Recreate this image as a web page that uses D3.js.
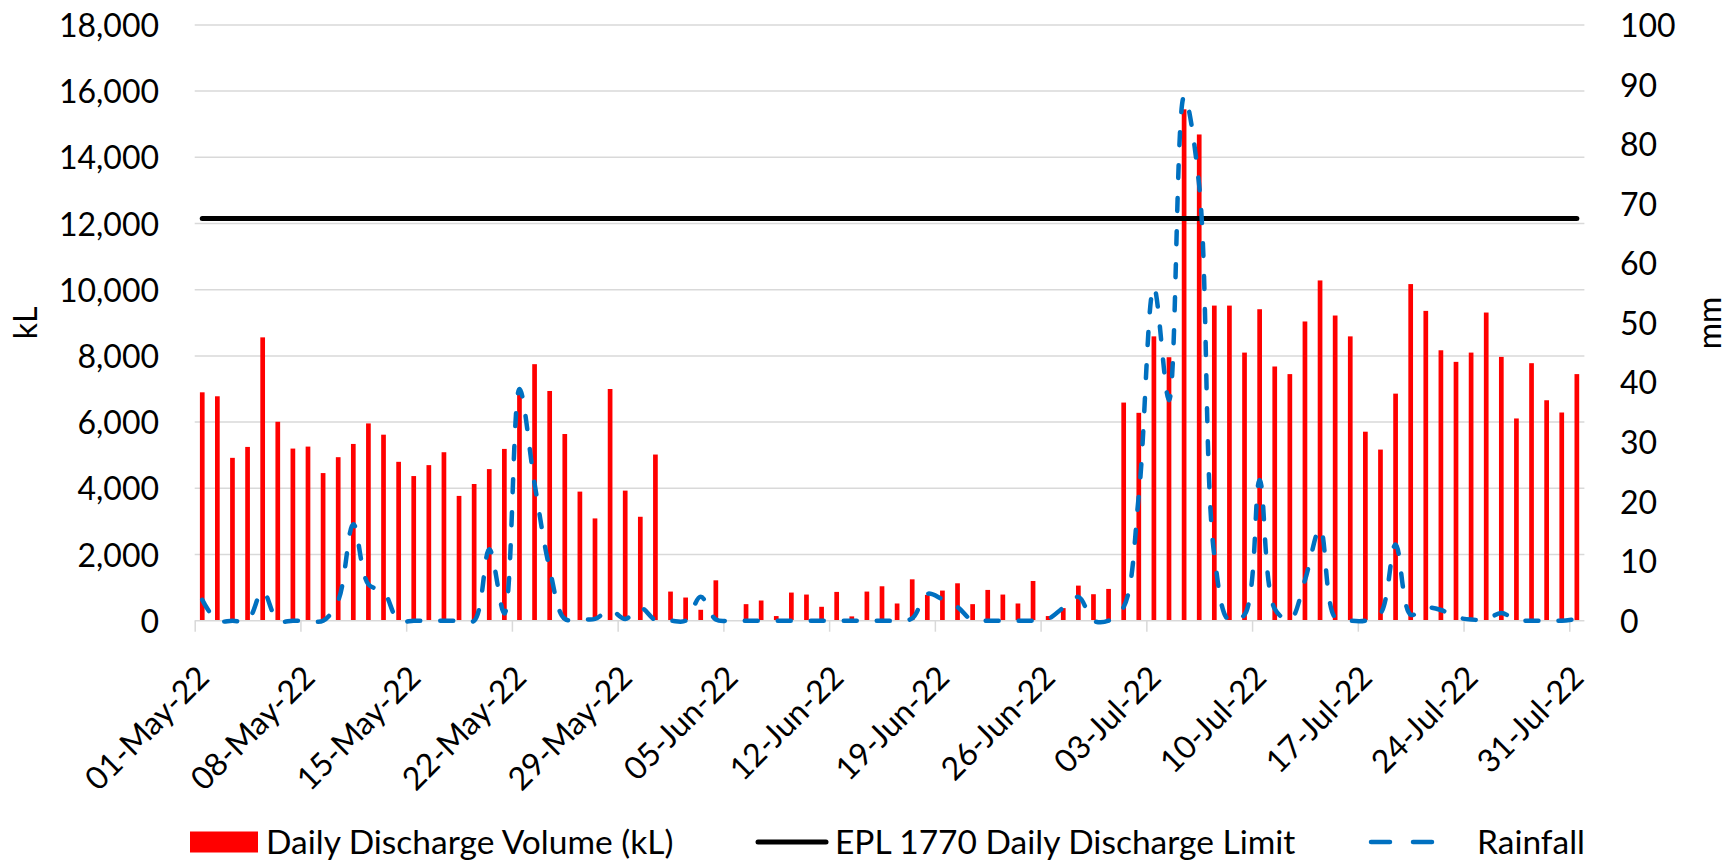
<!DOCTYPE html>
<html>
<head>
<meta charset="utf-8">
<script src="https://cdn.jsdelivr.net/npm/d3@7"></script>
<style>
  body { margin: 0; background: #fff; }
  svg text { font-family: "Lato", "Open Sans", sans-serif; fill: #000; }
</style>
</head>
<body>
<div id="chart"></div>
<script>
// daily discharge volume (kL), 01-May-22 .. 31-Jul-22
var discharge = [
  6900, 6780, 4920, 5250, 8560, 6010, 5200, 5260, 4460, 4940, 5340, 5960, 5620, 4800, 4370, 4700,
  5090, 3770, 4130, 4580, 5190, 6900, 7750, 6940, 5640, 3900, 3090, 7000, 3930, 3140, 5020,
  // June
  880, 700, 330, 1220, 0, 500, 610, 140, 850, 790, 420, 870, 130, 880, 1040,
  520, 1250, 780, 910, 1130, 500, 930, 790, 520, 1200, 140, 380, 1060, 800, 960,
  // July
  6590, 6280, 8590, 7960, 15450, 14690, 9520, 9520, 8100, 9410, 7680, 7450, 9040, 10280, 9220, 8590,
  5710, 5170, 6860, 10170, 9360, 8170, 7820, 8100, 9310, 7970, 6110, 7780, 6660, 6290, 7450
];

// rainfall (mm)
var rainfall = [
  3.5, 0, 0, 0, 5.0, 0, 0, 0, 0, 3.4, 16.2, 6.1, 4.9, 0, 0, 0,
  0, 0, 0, 12.0, 1.2, 38.9, 23.0, 8.7, 0.3, 0.3, 0.3, 1.8, 0.3, 2.2, 0.1,
  // June
  0, 0, 4.0, 0.2, 0, 0, 0, 0, 0, 0, 0, 0, 0, 0, 0,
  0, 0.4, 4.5, 3.6, 2.3, 0, 0, 0, 0, 0, 0.3, 2.2, 4.0, 0, 0,
  // July
  2.3, 21.0, 56.0, 37.0, 88.0, 73.0, 11.0, 0, 1.0, 23.6, 2.0, 0.1, 6.8, 15.5, 0.5, 0,
  0, 1.2, 12.8, 1.0, 2.2, 1.8, 0.6, 0.2, 0.2, 1.3, 0.1, 0, 0, 0, 0.3
];

var dischargeLimit = 12150;

var leftTicks = [0, 2000, 4000, 6000, 8000, 10000, 12000, 14000, 16000, 18000];
var rightTicks = [0, 10, 20, 30, 40, 50, 60, 70, 80, 90, 100];

var legendLabels = ["Daily Discharge Volume (kL)", "EPL 1770 Daily Discharge Limit", "Rainfall"];

// days of the period (categories)
var days = d3.utcDay.range(Date.UTC(2022, 4, 1), Date.UTC(2022, 7, 1));
var tickDays = days.filter(function(d, i) { return i % 7 === 0; });

// dimensions
var W = 1735, H = 860;
var plot = { left: 194.7, right: 1584.4, top: 24.9, bottom: 620.7 };

var svg = d3.select("#chart")
  .append("svg")
  .attr("width", W)
  .attr("height", H);

var x = d3.scaleUtc()
  .domain([days[0], d3.utcDay.offset(days[days.length - 1], 1)])
  .range([plot.left, plot.right]);

function xMid(d) {
  return x(d3.utcHour.offset(d, 12));
}

var yL = d3.scaleLinear().domain([0, 18000]).range([plot.bottom, plot.top]);
var yR = d3.scaleLinear().domain([0, 100]).range([plot.bottom, plot.top]);

// gridlines
svg.append("g")
  .selectAll("line")
  .data(leftTicks.slice(1))
  .enter()
  .append("line")
  .attr("x1", plot.left)
  .attr("x2", plot.right)
  .attr("y1", function(d) { return yL(d); })
  .attr("y2", function(d) { return yL(d); })
  .attr("stroke", "#d9d9d9")
  .attr("stroke-width", 1.5);

// left axis
var gL = svg.append("g")
  .attr("transform", "translate(" + plot.left + ",0)")
  .call(d3.axisLeft(yL).tickValues(leftTicks).tickFormat(d3.format(",")).tickSize(0).tickPadding(35.7));
gL.select(".domain").remove();
gL.selectAll("text").style("font-size", "32px").attr("dy", "0.36em");

// right axis
var gR = svg.append("g")
  .attr("transform", "translate(" + plot.right + ",0)")
  .call(d3.axisRight(yR).tickValues(rightTicks).tickSize(0).tickPadding(35.6));
gR.select(".domain").remove();
gR.selectAll("text").style("font-size", "32px").attr("dy", "0.36em");

// bars
var barW = 4.7;
svg.append("g")
  .selectAll("rect")
  .data(days)
  .enter()
  .append("rect")
  .attr("x", function(d) { return xMid(d) - barW / 2; })
  .attr("y", function(d, i) { return yL(discharge[i]); })
  .attr("width", barW)
  .attr("height", function(d, i) { return plot.bottom - yL(discharge[i]); })
  .attr("fill", "#ff0000");

// bottom axis
var gX = svg.append("g")
  .attr("transform", "translate(0," + plot.bottom + ")")
  .call(d3.axisBottom(x).tickValues(tickDays).tickFormat(d3.utcFormat("%d-%b-%y")).tickSizeInner(11).tickSizeOuter(0));
gX.select(".domain").attr("stroke", "#d9d9d9").attr("stroke-width", 1.5)
  .attr("d", "M" + plot.left + ",0H" + plot.right);
gX.selectAll(".tick line").attr("stroke", "#d9d9d9").attr("stroke-width", 1.5);
gX.selectAll("text")
  .style("font-size", "32px")
  .attr("x", 0)
  .attr("y", 0)
  .attr("dy", "0.35em")
  .attr("text-anchor", "end")
  .attr("transform", "translate(8,51) rotate(-45)");

// discharge limit line
svg.append("line")
  .attr("x1", xMid(days[0]))
  .attr("x2", xMid(days[days.length - 1]))
  .attr("y1", yL(dischargeLimit))
  .attr("y2", yL(dischargeLimit))
  .attr("stroke", "#000")
  .attr("stroke-width", 5)
  .attr("stroke-linecap", "round");

// rainfall
var rainLine = d3.line()
  .x(function(d) { return xMid(d); })
  .y(function(d, i) { return yR(rainfall[i]); })
  .curve(d3.curveCatmullRom);

svg.append("path")
  .datum(days)
  .attr("d", rainLine)
  .attr("fill", "none")
  .attr("stroke", "#0070c0")
  .attr("stroke-width", 4.5)
  .attr("stroke-dasharray", "13,20")
  .attr("stroke-linecap", "round");

// axis titles
svg.append("text")
  .attr("transform", "translate(26,323) rotate(-90)")
  .attr("text-anchor", "middle")
  .attr("dy", "0.35em")
  .style("font-size", "32px")
  .text("kL");

svg.append("text")
  .attr("transform", "translate(1710,323) rotate(-90)")
  .attr("text-anchor", "middle")
  .attr("dy", "0.35em")
  .style("font-size", "32px")
  .text("mm");

// legend
var legY = 842;
var leg = svg.append("g").style("font-size", "33.5px");
leg.append("rect")
  .attr("x", 190).attr("y", legY - 10.5)
  .attr("width", 68).attr("height", 21)
  .attr("fill", "#ff0000");
leg.append("text")
  .attr("x", 266).attr("y", legY + 11.5)
  .text(legendLabels[0]);

leg.append("line")
  .attr("x1", 758).attr("x2", 826)
  .attr("y1", legY).attr("y2", legY)
  .attr("stroke", "#000").attr("stroke-width", 5)
  .attr("stroke-linecap", "round");
leg.append("text")
  .attr("x", 835).attr("y", legY + 11.5)
  .text(legendLabels[1]);

leg.append("line")
  .attr("x1", 1371).attr("x2", 1433)
  .attr("y1", legY).attr("y2", legY)
  .attr("stroke", "#0070c0").attr("stroke-width", 4.5)
  .attr("stroke-dasharray", "19,23")
  .attr("stroke-linecap", "round");
leg.append("text")
  .attr("x", 1477).attr("y", legY + 11.5)
  .text(legendLabels[2]);
</script>
</body>
</html>
